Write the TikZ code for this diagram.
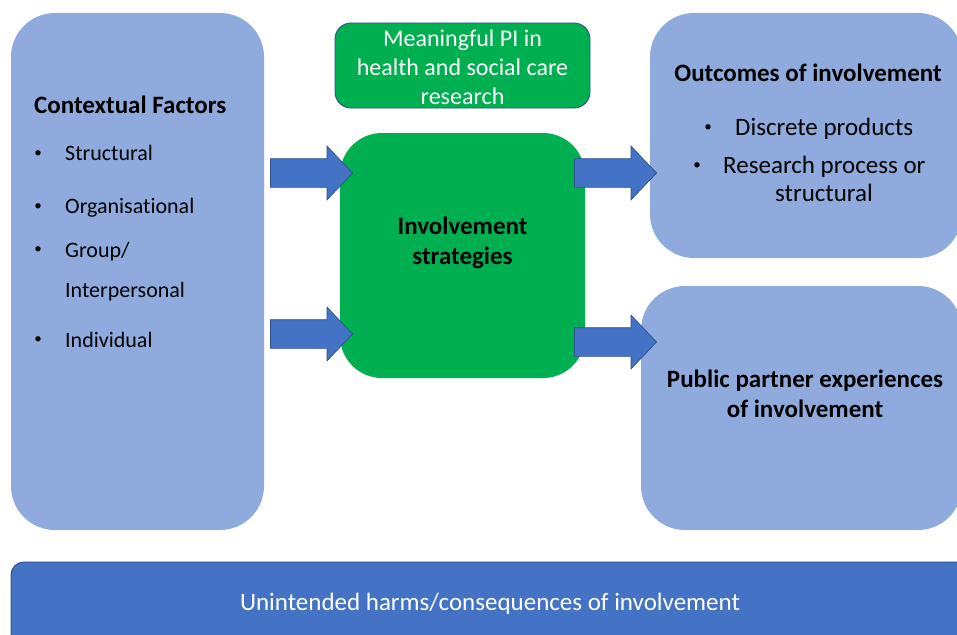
\documentclass[tikz,border=0pt]{standalone}
\usepackage{fontspec}
\setmainfont{Carlito}[Ligatures=NoCommon]
\usetikzlibrary{shapes.arrows}
\definecolor{paleblue}{HTML}{8FAADC}
\definecolor{pigreen}{HTML}{00B050}
\definecolor{midblue}{HTML}{4472C4}
\definecolor{edgeblue}{HTML}{2F528F}
\begin{document}
\begin{tikzpicture}[x=1pt,y=-1pt,
  panel/.style={fill=paleblue, draw=none, rounded corners=44pt, inner sep=0pt},
  hub/.style={fill=pigreen, draw=none, rounded corners=42pt, inner sep=0pt},
  banner/.style={fill=pigreen, draw=edgeblue, line width=0.9pt, rounded corners=16pt, inner sep=0pt},
  footbar/.style={fill=midblue, draw=edgeblue, line width=1pt, rounded corners=13pt, inner sep=0pt},
  blockarrow/.style={single arrow, fill=midblue, draw=edgeblue, line width=0.7pt,
    inner sep=0pt, minimum height=82pt,
    single arrow head extend=12.5pt, single arrow tip angle=93},
  txt/.style={inner sep=0pt, text=black},
  dot/.style={inner sep=0pt, text=black, font=\fontsize{15}{18}\selectfont},
  bigfont/.style={font=\fontsize{25}{30}\selectfont},
  boldfont/.style={font=\bfseries\fontsize{25}{30}\selectfont},
  listfont/.style={font=\fontsize{22}{26}\selectfont}]
\useasboundingbox (0,0) rectangle (957,634);
\clip (0,0) rectangle (957,634);
\fill[white] (0,0) rectangle (957,634);

% boxes
\node[panel, minimum width=253pt, minimum height=517pt] (ctx) at (137.5,271.5) {};
\node[banner, minimum width=255pt, minimum height=85pt] (pi) at (462.5,65.5) {};
\node[hub, minimum width=245pt, minimum height=245pt] (strat) at (462.5,255.5) {};
\node[panel, minimum width=312pt, minimum height=245pt] (outc) at (806,135.5) {};
\node[panel, minimum width=321pt, minimum height=244pt] (pub) at (801.5,408) {};
\node[footbar, minimum width=964pt, minimum height=88pt] (harm) at (493,606) {};

% block arrows (shaft thickness set by the strut inside)
\node[blockarrow, anchor=tip] (a1) at (353,173) {\rule{0pt}{28pt}};
\node[blockarrow, anchor=tip] (a2) at (353,334) {\rule{0pt}{28pt}};
\node[blockarrow, anchor=tip] (a3) at (657,173) {\rule{0pt}{28pt}};
\node[blockarrow, anchor=tip] (a4) at (657,342) {\rule{0pt}{28pt}};

% contextual factors
\node[txt, boldfont, anchor=base west] (ctxt) at (34,113) {Contextual Factors};
\node[dot] (b1) at (38,154) {•};
\node[txt, listfont, anchor=base west] (l1) at (65,160.7) {Structural};
\node[dot] (b2) at (38,207) {•};
\node[txt, listfont, anchor=base west] (l2) at (65,213) {Organisational};
\node[dot] (b3) at (38,250) {•};
\node[txt, listfont, anchor=base west] (l3) at (65,257) {Group/};
\node[txt, listfont, anchor=base west] (l3b) at (65,297) {Interpersonal};
\node[dot] (b4) at (38,340) {•};
\node[txt, listfont, anchor=base west] (l4) at (65,347) {Individual};

% banner and hub
\node[inner sep=0pt, text=white, align=center,
  font=\fontsize{24}{29.2}\selectfont] (pit) at (462.5,67) {Meaningful PI in\\health and social care\\research};
\node[txt, align=center, font=\bfseries\fontsize{25}{30}\selectfont] (stt) at (462.5,243) {Involvement\\strategies};

% outcomes
\node[txt, boldfont, anchor=base] (ot) at (808,81.7) {Outcomes of involvement};
\node[dot] (ob1) at (708,128) {•};
\node[txt, bigfont, anchor=base west] (o1) at (735,135) {Discrete products};
\node[dot] (ob2) at (697,166) {•};
\node[txt, bigfont, anchor=base west] (o2) at (723,173) {Research process or};
\node[txt, bigfont, anchor=base] (o2b) at (824,201.7) {structural};

% public partner
\node[txt, align=center, font=\bfseries\fontsize{25}{30}\selectfont] (pt) at (805,394) {Public partner experiences\\of involvement};

% unintended harms
\node[inner sep=0pt, text=white, bigfont, anchor=base] (ht) at (490,610) {Unintended harms/consequences of involvement};
\end{tikzpicture}
\end{document}
